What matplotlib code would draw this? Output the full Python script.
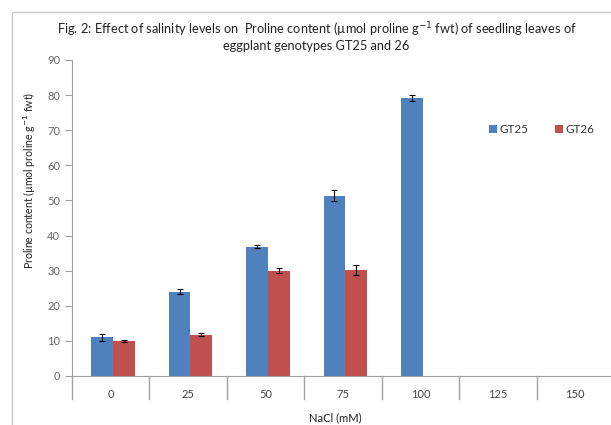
import matplotlib.pyplot as plt
import numpy as np

nacl = ['0', '25', '50', '75', '100', '125', '150']
gt25 = [11.0, 24.0, 36.8, 51.3, 79.2, np.nan, np.nan]
gt25_err = [1.0, 0.7, 0.4, 1.6, 0.8, np.nan, np.nan]
gt26 = [10.0, 11.8, 30.0, 30.2, np.nan, np.nan, np.nan]
gt26_err = [0.2, 0.4, 0.7, 1.5, np.nan, np.nan, np.nan]

params = {
    'font.family': ['Lato', 'DejaVu Sans'],
    'axes.edgecolor': '#a0a0a0',
    'xtick.labelsize': 8,
    'ytick.labelsize': 8,
}
plt.rcParams.update(params)

fig = plt.figure(figsize=(6.11, 4.25), dpi=100)
# outer chart frame
fig.patches.append(plt.Rectangle((12 / 611, -0.1), 1.2, 1 - 12 / 425 + 0.1,
                                 transform=fig.transFigure, fill=False,
                                 edgecolor='#c8c8c8', linewidth=1))

ax = fig.add_axes([72 / 611, 1 - 376 / 425, 542 / 611, 316 / 425])
x = np.arange(len(nacl))
w = 0.28
ax.bar(x - w / 2 + 0.03, gt25, w, color='#4f81bd', label='GT25',
       yerr=gt25_err, error_kw=dict(ecolor='black', elinewidth=0.8, capsize=2.5, capthick=0.8))
ax.bar(x + w / 2 + 0.03, gt26, w, color='#c0504d', label='GT26',
       yerr=gt26_err, error_kw=dict(ecolor='black', elinewidth=0.8, capsize=2.5, capthick=0.8))

ax.set_xlim(-0.5, len(nacl) - 0.5)
ax.set_ylim(0, 90)
ax.set_yticks(range(0, 91, 10))
ax.tick_params(axis='y', colors='#a0a0a0', labelcolor='#666666', length=5, direction='out')
ax.set_xticks(x)
ax.set_xticklabels(nacl, color='#444444')
ax.tick_params(axis='x', length=0, pad=9)
# category separators below the axis
for b in np.arange(-0.5, len(nacl), 1.0):
    ax.plot([b, b], [0, -6.5], color='#a0a0a0', linewidth=1, clip_on=False)
ax.spines['top'].set_visible(False)
ax.spines['right'].set_visible(False)

ax.legend(loc='upper left', bbox_to_anchor=(0.75, 0.83), ncol=2, frameon=False,
          fontsize=8.5, handlelength=0.7, handleheight=0.7, handletextpad=0.2,
          columnspacing=2.2, labelcolor='#333333')

fig.text(0.518, 1 - 30 / 425, 'Fig. 2: Effect of salinity levels on  Proline content (µmol proline g$^{-1}$ fwt) of seedling leaves of',
         ha='center', va='center', fontsize=9.2, color='#222222')
fig.text(0.518, 1 - 46 / 425, 'eggplant genotypes GT25 and 26', ha='center', va='center',
         fontsize=9.2, color='#222222')
fig.text(29 / 611, 1 - 180 / 425, 'Proline content (µmol proline g$^{-1}$ fwt)', rotation=90,
         ha='center', va='center', fontsize=7.6, color='#222222')
fig.text(335 / 611, 1 - 418 / 425, 'NaCl (mM)', ha='center', va='center', fontsize=8,
         color='#222222')

plt.savefig('out.png', dpi=100)
